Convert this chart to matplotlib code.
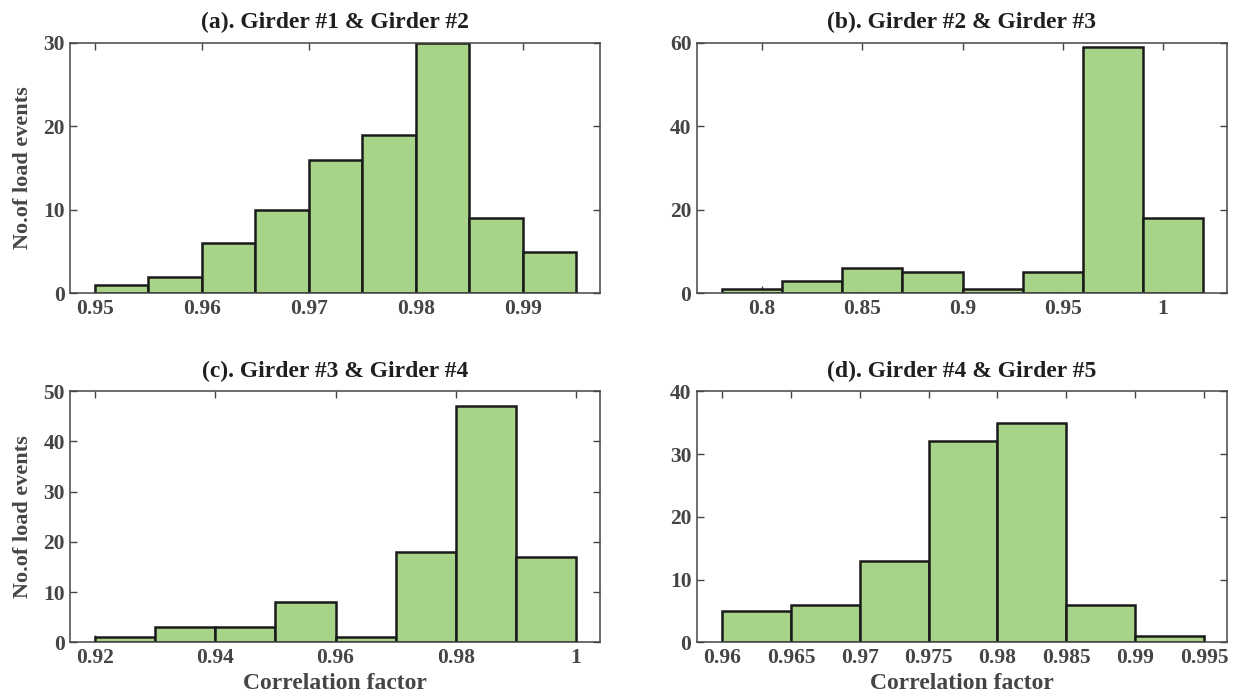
import matplotlib
matplotlib.use("Agg")
import matplotlib.pyplot as plt
import numpy as np

plt.rcParams['font.family'] = ['Liberation Serif', 'DejaVu Serif']
plt.rcParams['font.weight'] = 'bold'

# histogram data
titles = ["(a). Girder #1 & Girder #2", "(b). Girder #2 & Girder #3",
          "(c). Girder #3 & Girder #4", "(d). Girder #4 & Girder #5"]

counts_a = [1, 2, 6, 10, 16, 19, 30, 9, 5]
edges_a = [0.950, 0.955, 0.960, 0.965, 0.970, 0.975, 0.980, 0.985, 0.990, 0.995]

counts_b = [1, 3, 6, 5, 1, 5, 59, 18]
edges_b = [0.78, 0.81, 0.84, 0.87, 0.90, 0.93, 0.96, 0.99, 1.02]

counts_c = [1, 3, 3, 8, 1, 18, 47, 17]
edges_c = [0.92, 0.93, 0.94, 0.95, 0.96, 0.97, 0.98, 0.99, 1.00]

counts_d = [5, 6, 13, 32, 35, 6, 1]
edges_d = [0.960, 0.965, 0.970, 0.975, 0.980, 0.985, 0.990, 0.995]

xticks_a = [0.95, 0.96, 0.97, 0.98, 0.99]
xticks_b = [0.8, 0.85, 0.9, 0.95, 1]
xticks_c = [0.92, 0.94, 0.96, 0.98, 1]
xticks_d = [0.96, 0.965, 0.97, 0.975, 0.98, 0.985, 0.99, 0.995]

xticklabels_a = ["0.95", "0.96", "0.97", "0.98", "0.99"]
xticklabels_b = ["0.8", "0.85", "0.9", "0.95", "1"]
xticklabels_c = ["0.92", "0.94", "0.96", "0.98", "1"]
xticklabels_d = ["0.96", "0.965", "0.97", "0.975", "0.98", "0.985", "0.99", "0.995"]

yticks_a = [0, 10, 20, 30]
yticks_b = [0, 20, 40, 60]
yticks_c = [0, 10, 20, 30, 40, 50]
yticks_d = [0, 10, 20, 30, 40]

xlims = [(0.9477, 0.99725), (0.7675, 1.0319), (0.9159, 1.004), (0.95818, 0.99667)]

face = '#a7d489'
axis_col = '#454545'

fig = plt.figure(figsize=(12.36, 6.93), dpi=100)
positions = [[0.0569, 0.5768, 0.4286, 0.3616],
             [0.5639, 0.5768, 0.4288, 0.3616],
             [0.0569, 0.0732, 0.4286, 0.3622],
             [0.5639, 0.0732, 0.4288, 0.3622]]

panels = [(counts_a, edges_a, xticks_a, xticklabels_a, yticks_a),
          (counts_b, edges_b, xticks_b, xticklabels_b, yticks_b),
          (counts_c, edges_c, xticks_c, xticklabels_c, yticks_c),
          (counts_d, edges_d, xticks_d, xticklabels_d, yticks_d)]

for i, (counts, edges, xt, xtl, yt) in enumerate(panels):
    ax = fig.add_axes(positions[i])
    edges = np.array(edges)
    ax.bar(edges[:-1], counts, width=np.diff(edges), align='edge',
           color=face, edgecolor='#1a1a1a', linewidth=1.8, zorder=2)
    ax.set_xlim(*xlims[i])
    ax.set_ylim(yt[0], yt[-1])
    ax.set_xticks(xt)
    ax.set_xticklabels(xtl)
    ax.set_yticks(yt)
    ax.tick_params(direction='in', length=5, width=1, colors=axis_col,
                   top=True, right=True, labelsize=15.5, pad=4)
    for lbl in ax.get_xticklabels() + ax.get_yticklabels():
        lbl.set_fontweight('bold')
    for s in ax.spines.values():
        s.set_color(axis_col)
        s.set_linewidth(1.1)
    ax.set_title(titles[i], fontsize=17, fontweight='bold', color='#1f1f1f', pad=10.5)
    if i in (0, 2):
        ax.set_ylabel("No.of load events", fontsize=16, fontweight='bold',
                      color=axis_col, labelpad=7)
    if i in (2, 3):
        ax.set_xlabel("Correlation factor", fontsize=17, fontweight='bold',
                      color=axis_col, labelpad=3.5)

fig.savefig("out.png", dpi=100)
